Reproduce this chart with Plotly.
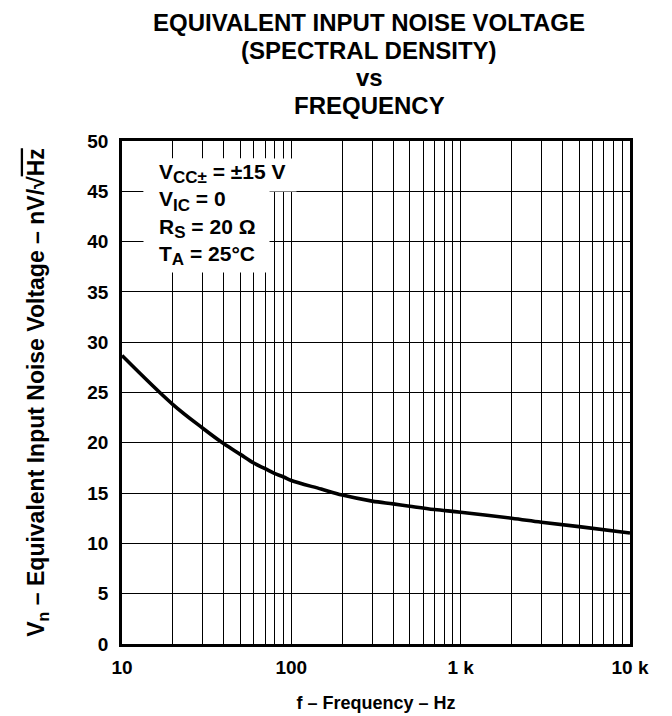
import plotly.graph_objects as go

freq_hz = [10, 20, 30, 40, 50, 60, 70, 80, 90, 100, 150, 200, 300, 400, 500, 700, 1000, 2000, 3000, 5000, 10000]
noise_nv = [28.68, 23.8, 21.45, 19.9, 18.85, 17.99, 17.43, 16.93, 16.6, 16.25, 15.4, 14.8, 14.2, 13.93,
            13.7, 13.37, 13.1, 12.5, 12.1, 11.67, 11.03]

x_tick_vals = [10, 100, 1000, 10000]
x_tick_text = ["10", "100", "1 k", "10 k"]
y_tick_vals = [0, 5, 10, 15, 20, 25, 30, 35, 40, 45, 50]

title_lines = ["EQUIVALENT INPUT NOISE VOLTAGE", "(SPECTRAL DENSITY)", "vs", "FREQUENCY"]
SUBF = "<span style='font-size:17px'>{}</span>"
cond_lines = [
    "V<sub>" + SUBF.format("CC±") + "</sub> = ±15 V",
    "V<sub>" + SUBF.format("IC") + "</sub> = 0",
    "R<sub>" + SUBF.format("S") + "</sub> = 20 Ω",
    "T<sub>" + SUBF.format("A") + "</sub> = 25°C",
]

FONT = "Liberation Sans"

# page has an 8px body margin; plot area in page px: x 122..630, y 141..644
PL, PT = 122, 141

fig = go.Figure()
fig.add_trace(go.Scatter(
    x=freq_hz, y=noise_nv, mode="lines",
    line=dict(color="black", width=3.6, shape="spline", smoothing=1.0),
    hoverinfo="skip", showlegend=False,
))

fig.update_layout(
    width=664, height=708,
    margin=dict(l=PL - 8, r=42, t=PT - 8, b=72),
    paper_bgcolor="white", plot_bgcolor="white",
    font=dict(family=FONT, color="black", size=19, weight="bold"),
    showlegend=False,
)

fig.update_xaxes(
    type="log", range=[1, 4],
    tickvals=x_tick_vals, ticktext=x_tick_text,
    showgrid=True, gridcolor="black", gridwidth=1,
    minor=dict(dtick="D1", showgrid=True, gridcolor="black", gridwidth=1, ticks=""),
    showline=True, linecolor="black", linewidth=2.5, mirror=True,
    ticks="", ticklabelstandoff=4, automargin=False,
    tickfont=dict(family=FONT, size=19, weight="bold"),
    title=dict(text="f – Frequency – Hz", font=dict(family=FONT, size=18, weight="bold"), standoff=20),
    zeroline=False,
)
fig.update_yaxes(
    range=[0, 50], tickvals=y_tick_vals,
    showgrid=True, gridcolor="black", gridwidth=1,
    showline=True, linecolor="black", linewidth=2.5, mirror=True,
    ticks="", ticklabelstandoff=7, automargin=False,
    tickfont=dict(family=FONT, size=19, weight="bold"),
    title=dict(text="V<sub>n</sub> – Equivalent Input Noise Voltage – nV/√<span style='text-decoration:overline'>Hz</span>",
               font=dict(family=FONT, size=23, weight="bold"), standoff=37),
    zeroline=False,
)

def px_annot(text, px, py, xanchor, yanchor, size, **kw):
    fig.add_annotation(
        xref="paper", yref="paper", x=0, y=1,
        xshift=px - PL, yshift=-(py - PT),
        xanchor=xanchor, yanchor=yanchor, text=text, showarrow=False,
        font=dict(family=FONT, size=size, weight="bold"), **kw,
    )

# Title lines (centres in page px)
for line, cy in zip(title_lines, [22, 49.5, 77, 104.5]):
    px_annot(line, 369, cy, "center", "middle", 24, height=28, borderpad=0)

# White backgrounds behind the condition block
px_annot(" ", 143, 158, "left", "top", 10, bgcolor="white", width=125, height=113, borderpad=0)
px_annot(" ", 143, 158, "left", "top", 10, bgcolor="white", width=152, height=32, borderpad=0)

# Condition text
px_annot("<br>".join(cond_lines), 157, 158, "left", "top", 21, align="left")

fig.write_html("out.html")
